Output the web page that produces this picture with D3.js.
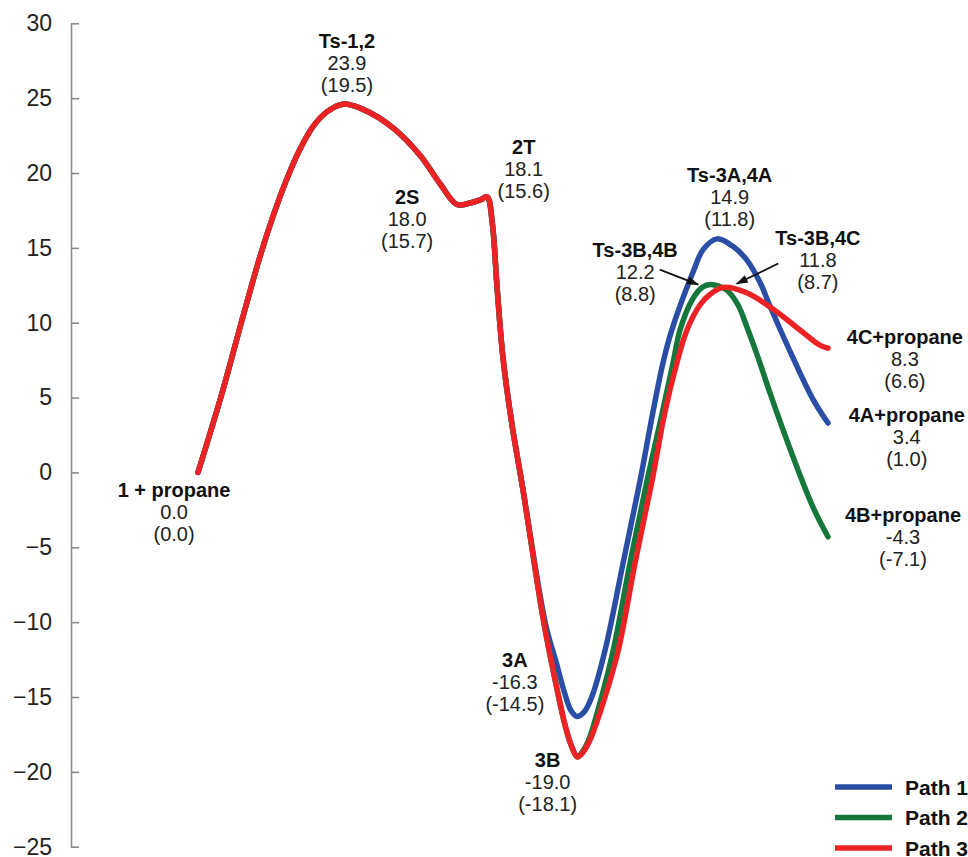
<!DOCTYPE html>
<html>
<head>
<meta charset="utf-8">
<script src="https://cdn.jsdelivr.net/npm/d3@7"></script>
<style>
  html, body { margin: 0; padding: 0; background: #fff; }
  svg { display: block; font-family: "Liberation Sans", Arial, Helvetica, sans-serif; }
</style>
</head>
<body>
<svg id="chart" width="968" height="857"></svg>
<script>
// ---- data (reaction coordinate, relative energy kcal/mol) ----
const sharedRC = [0, 3.97, 7.14, 9.84, 11.9, 14.1, 16.2, 18.25, 20.5, 23.0, 26.2, 31.0, 35.2, 38.4, 41.1, 43.2, 44.8, 45.9, 46.7, 47.5, 48.4, 49.8, 51.6];
const sharedE  = [0, 5.53, 10.41, 14.42, 17.1, 19.6, 21.6, 23.1, 24.1, 24.6, 24.25, 23.0, 21.2, 19.3, 17.9, 18.0, 18.2, 18.4, 16.7, 12.2, 7.7, 3.3, -1.2];

const path1RC = [55.2, 56.8, 58.1, 59.2, 60.2, 61.3, 62.5, 64.6, 67.5, 70.2, 72.2, 73.8, 75.2, 78.6, 80.2, 82.4, 84.9, 87.1, 89.2, 90.8, 94.4, 97.6, 100];
const path1E  = [-10.2, -12.6, -14.6, -15.9, -16.3, -16.0, -15.0, -11.9, -6.0, -0.5, 4.0, 7.3, 9.5, 13.4, 14.9, 15.6, 15.1, 14.2, 12.7, 11.1, 7.7, 4.9, 3.3];

const path2RC = [54.8, 57.0, 58.4, 59.4, 60.2, 61.1, 62.0, 63.8, 65.9, 68.6, 71.3, 73.7, 75.4, 76.5, 78.4, 80.0, 81.3, 82.9, 84.0, 85.7, 87.1, 88.9, 90.8, 94.4, 97.6, 100];
const path2E  = [-9.8, -14.5, -17.1, -18.4, -19.0, -18.6, -17.9, -15.4, -11.9, -6.0, -0.5, 4.0, 7.3, 9.5, 11.5, 12.35, 12.55, 12.4, 12.15, 11.2, 9.75, 7.67, 5.3, 1.1, -2.3, -4.3];

const path3RC = [54.8, 57.0, 58.4, 59.4, 60.2, 61.1, 62.2, 64.3, 66.7, 69.4, 72.1, 74.1, 76.0, 77.6, 79.7, 81.3, 83.3, 87.1, 91.3, 95.6, 98.7, 100];
const path3E  = [-9.8, -14.5, -17.1, -18.4, -19.0, -18.7, -17.9, -15.4, -11.9, -6.0, -0.5, 4.0, 7.3, 9.5, 11.2, 11.9, 12.35, 12.0, 10.9, 9.5, 8.5, 8.3];

const seriesNames = ["Path 1", "Path 2", "Path 3"];
const yTicks = [-25, -20, -15, -10, -5, 0, 5, 10, 15, 20, 25, 30];

// stationary-point labels: name, energy, (energy in parentheses)
const labelNames = ["1 + propane", "Ts-1,2", "2S", "2T", "3A", "3B", "Ts-3B,4B", "Ts-3A,4A", "Ts-3B,4C", "4C+propane", "4A+propane", "4B+propane"];
const labelE     = ["0.0", "23.9", "18.0", "18.1", "-16.3", "-19.0", "12.2", "14.9", "11.8", "8.3", "3.4", "-4.3"];
const labelE2    = ["(0.0)", "(19.5)", "(15.7)", "(15.6)", "(-14.5)", "(-18.1)", "(8.8)", "(11.8)", "(8.7)", "(6.6)", "(1.0)", "(-7.1)"];

// ---- layout (label anchors in chart units) ----
const labelAnchorRC = [-3.8, 23.65, 33.2, 51.7, 50.3, 55.5, 69.4, 84.4, 98.4, 112.2, 112.5, 111.9];
const labelAnchorE  = [-1.63, 28.33, 17.9, 21.24, -13.0, -19.7, 14.36, 19.37, 15.16, 8.6, 3.34, -3.33];
const arrowsLayout = [
  {from: [73.3, 13.55], to: [79.4, 12.55]},
  {from: [92.1, 13.96], to: [85.5, 12.6]}
];

const colors = ["#2a4ea6", "#15773b", "#ec2224"];

const svg = d3.select("#chart");
const x = d3.scaleLinear().domain([0, 100]).range([198, 828]);
const y = d3.scaleLinear().domain([-25, 30]).range([846.7, 23.3]);

// axis
const axis = d3.axisLeft(y)
  .tickValues(yTicks)
  .tickFormat(d3.format("d"))
  .tickSizeInner(-8)
  .tickSizeOuter(0)
  .tickPadding(19);
const gAxis = svg.append("g").attr("transform", "translate(71,0)").call(axis);
gAxis.select(".domain").attr("stroke", "#8a8a8a").attr("stroke-width", 1.6);
gAxis.selectAll(".tick line").attr("stroke", "#8a8a8a").attr("stroke-width", 1.6);
gAxis.selectAll(".tick text")
  .attr("fill", "#222")
  .style("font-size", "23px")
  .style("font-family", "'Liberation Sans', Arial, sans-serif");

// curves
const build = (rc, e) => rc.map((v, i) => [v, e[i]]);
const shared = build(sharedRC, sharedE);
const paths = [
  shared.concat(build(path1RC, path1E)),
  shared.concat(build(path2RC, path2E)),
  shared.concat(build(path3RC, path3E))
];
const line = d3.line()
  .x(d => x(d[0]))
  .y(d => y(d[1]))
  .curve(d3.curveCatmullRom.alpha(0.5));

svg.append("g").selectAll("path")
  .data(paths)
  .join("path")
  .attr("d", line)
  .attr("fill", "none")
  .attr("stroke", (d, i) => colors[i])
  .attr("stroke-width", 5.5)
  .attr("stroke-linejoin", "round")
  .attr("stroke-linecap", "round");

// arrows
svg.append("defs").append("marker")
  .attr("id", "arrowhead")
  .attr("viewBox", "0 0 12 10")
  .attr("refX", 11).attr("refY", 5)
  .attr("markerWidth", 13).attr("markerHeight", 10)
  .attr("markerUnits", "userSpaceOnUse")
  .attr("orient", "auto")
  .append("path")
  .attr("d", "M0,1 L12,5 L0,9 Z")
  .attr("fill", "#111");

svg.append("g").selectAll("line")
  .data(arrowsLayout)
  .join("line")
  .attr("x1", d => x(d.from[0])).attr("y1", d => y(d.from[1]))
  .attr("x2", d => x(d.to[0])).attr("y2", d => y(d.to[1]))
  .attr("stroke", "#111")
  .attr("stroke-width", 1.8)
  .attr("marker-end", "url(#arrowhead)");

// labels
const gLab = svg.append("g")
  .style("font-size", "20px")
  .attr("fill", "#222")
  .attr("text-anchor", "middle");
labelNames.forEach((name, i) => {
  const t = gLab.append("text")
    .attr("x", x(labelAnchorRC[i]))
    .attr("y", y(labelAnchorE[i]));
  t.append("tspan").attr("x", x(labelAnchorRC[i])).attr("font-weight", "bold").attr("fill", "#111").text(name);
  t.append("tspan").attr("x", x(labelAnchorRC[i])).attr("dy", 22).text(labelE[i]);
  t.append("tspan").attr("x", x(labelAnchorRC[i])).attr("dy", 22).text(labelE2[i]);
});

// legend
const legend = svg.append("g").attr("transform", "translate(835,787)");
seriesNames.forEach((s, i) => {
  const g = legend.append("g").attr("transform", `translate(0,${i * 30.5})`);
  g.append("line").attr("x1", 0).attr("x2", 57).attr("y1", 0).attr("y2", 0)
    .attr("stroke", colors[i]).attr("stroke-width", 5.5);
  g.append("text").attr("x", 70).attr("y", 7.5)
    .style("font-size", "21px").attr("font-weight", "bold").attr("fill", "#111")
    .text(s);
});
</script>
</body>
</html>
